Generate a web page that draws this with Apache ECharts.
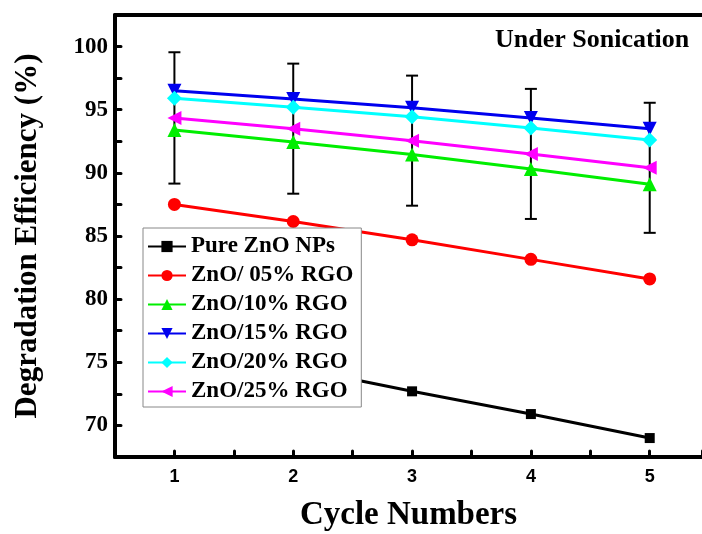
<!DOCTYPE html>
<html>
<head>
<meta charset="utf-8">
<script src="https://cdn.jsdelivr.net/npm/echarts@6/dist/echarts.min.js"></script>
<style>html,body{margin:0;padding:0;background:#fff;}#c{width:702px;height:534px;}</style>
</head>
<body>
<div id="c"></div>
<script>
var cycles = [1, 2, 3, 4, 5];
var pureZnO = [76.5, 74.6, 72.7, 70.9, 69.0];
var rgo05 = [87.5, 86.15, 84.7, 83.15, 81.6];
var rgo10 = [93.4, 92.45, 91.45, 90.3, 89.1];
var rgo15 = [96.5, 95.85, 95.15, 94.35, 93.5];
var rgo20 = [95.9, 95.2, 94.45, 93.55, 92.6];
var rgo25 = [94.35, 93.5, 92.55, 91.5, 90.4];
var rgo25Err = [5.2, 5.15, 5.15, 5.15, 5.15];
var seriesNames = ['Pure ZnO NPs', 'ZnO/ 05% RGO', 'ZnO/10% RGO', 'ZnO/15% RGO', 'ZnO/20% RGO', 'ZnO/25% RGO'];
var yTicks = [70, 75, 80, 85, 90, 95, 100];
var xTicks = [1, 2, 3, 4, 5];

var serif = '"Liberation Serif", "Times New Roman", serif';
function pairs(vals) { return cycles.map(function (c, i) { return [c, vals[i]]; }); }

var defs = [
  { data: pureZnO, color: '#000000', symbol: 'rect', size: 10, rot: 0 },
  { data: rgo05, color: '#ff0000', symbol: 'circle', size: 13, rot: 0 },
  { data: rgo10, color: '#00ee00', symbol: 'triangle', size: 14, rot: 0 },
  { data: rgo15, color: '#0000ee', symbol: 'triangle', size: 14, rot: 180 },
  { data: rgo20, color: '#00ffff', symbol: 'diamond', size: 15, rot: 0 },
  { data: rgo25, color: '#ff00ff', symbol: 'triangle', size: 14, rot: 90 }
];

var series = defs.map(function (d, i) {
  return {
    name: seriesNames[i], type: 'line', data: pairs(d.data),
    symbol: d.symbol, symbolSize: d.size, symbolRotate: d.rot,
    lineStyle: { color: d.color, width: 3 },
    itemStyle: { color: d.color },
    z: 3
  };
});

series.push({
  type: 'custom', name: 'err', z: 1,
  data: cycles.map(function (c, i) { return [c, rgo25[i] - rgo25Err[i], rgo25[i] + rgo25Err[i]]; }),
  renderItem: function (params, api) {
    var lo = api.coord([api.value(0), api.value(1)]);
    var hi = api.coord([api.value(0), api.value(2)]);
    var hw = 6;
    var st = { stroke: '#000', lineWidth: 2 };
    return { type: 'group', children: [
      { type: 'line', shape: { x1: hi[0], y1: hi[1], x2: lo[0], y2: lo[1] }, style: st },
      { type: 'line', shape: { x1: hi[0] - hw, y1: hi[1], x2: hi[0] + hw, y2: hi[1] }, style: st },
      { type: 'line', shape: { x1: lo[0] - hw, y1: lo[1], x2: lo[0] + hw, y2: lo[1] }, style: st }
    ]};
  }
});

var chart = echarts.init(document.getElementById('c'), null, { renderer: 'canvas' });
chart.setOption({
  animation: false,
  backgroundColor: '#fff',
  grid: { left: 115, right: 0, top: 15, bottom: 77, outerBoundsMode: 'none', containLabel: false },
  xAxis: [{
    type: 'value', min: 0.5, max: 5.44, interval: 0.5,
    axisLine: { lineStyle: { color: '#000', width: 4 } },
    axisTick: { inside: true, length: 6, lineStyle: { color: '#000', width: 3, cap: 'round' } },
    splitLine: { show: false },
    axisLabel: {
      margin: 11, color: '#000', fontFamily: '"Liberation Sans", Arial, sans-serif', fontWeight: 'bold', fontSize: 18,
      formatter: function (v) { return xTicks.indexOf(v) >= 0 ? String(v) : ''; }
    },
    name: 'Cycle Numbers', nameLocation: 'middle', nameGap: 42,
    nameTextStyle: { fontFamily: serif, fontWeight: 'bold', fontSize: 33, color: '#000' }
  }, {
    type: 'value', position: 'top', min: 0.5, max: 5.44,
    axisLine: { lineStyle: { color: '#000', width: 4 } },
    axisTick: { show: false }, axisLabel: { show: false }, splitLine: { show: false }
  }],
  yAxis: {
    type: 'value', min: 67.5, max: 102.5, interval: 2.5,
    axisLine: { show: true, lineStyle: { color: '#000', width: 4 } },
    axisTick: { show: true, inside: true, length: 6, lineStyle: { color: '#000', width: 3, cap: 'round' } },
    splitLine: { show: false },
    axisLabel: {
      margin: 7, color: '#000', fontFamily: serif, fontWeight: 'bold', fontSize: 23,
      formatter: function (v) { return yTicks.indexOf(v) >= 0 ? String(v) : ''; }
    },
    name: 'Degradation Efficiency (%)', nameLocation: 'middle', nameGap: 72, nameRotate: 90,
    nameTextStyle: { fontFamily: serif, fontWeight: 'bold', fontSize: 31, color: '#000' }
  },
  legend: {
    data: seriesNames, orient: 'vertical', left: 143, top: 228,
    itemWidth: 38, itemHeight: 14, itemGap: 6,
    padding: [7, 8, 4, 4],
    borderColor: '#888', borderWidth: 1, backgroundColor: '#fff',
    textStyle: { fontFamily: serif, fontWeight: 'bold', fontSize: 23, color: '#000', lineHeight: 22 }
  },
  graphic: [{
    type: 'text', left: 495, top: 27,
    style: { text: 'Under Sonication', font: 'bold 26px ' + serif, fill: '#000' }
  }],
  series: series
});
</script>
</body>
</html>
